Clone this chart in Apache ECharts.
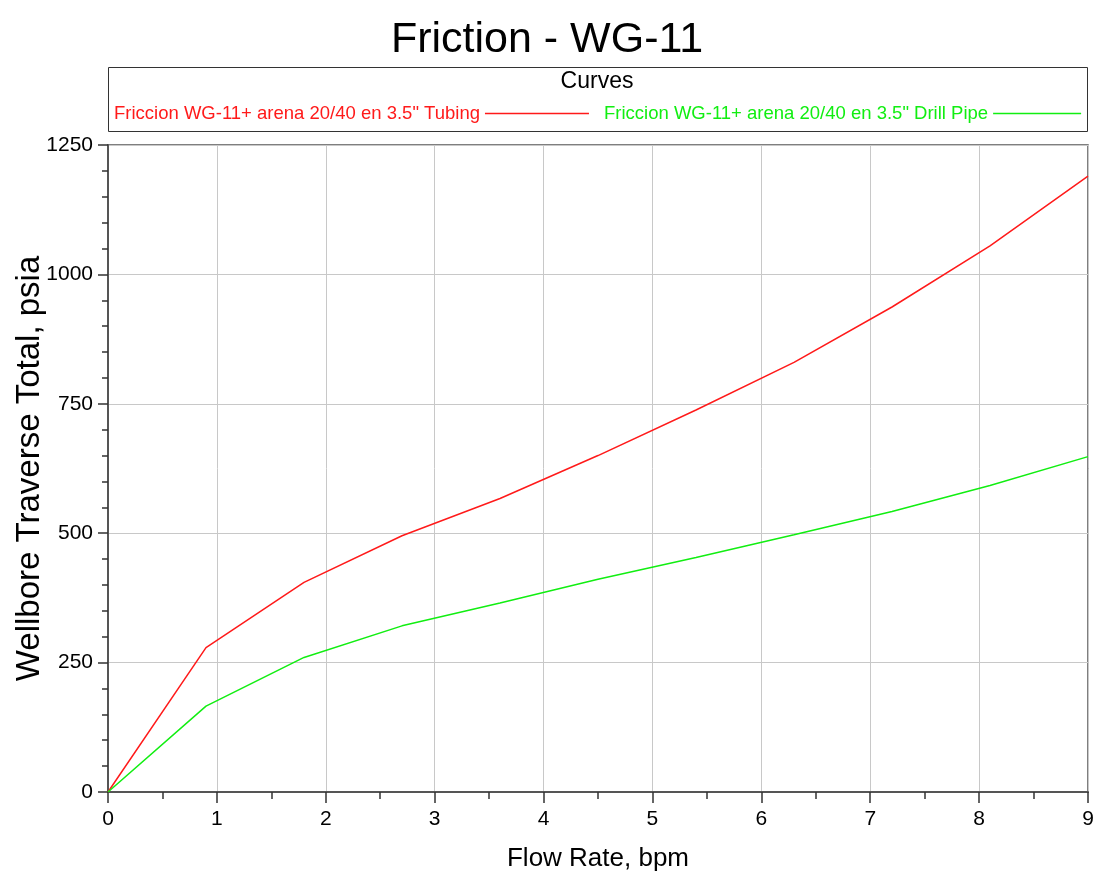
<!DOCTYPE html>
<html>
<head>
<meta charset="utf-8">
<script src="https://cdn.jsdelivr.net/npm/echarts@6/dist/echarts.min.js"></script>
<style>
html,body{margin:0;padding:0;background:#fff;}
#chart{width:1094px;height:874px;}
</style>
</head>
<body>
<div id="chart"></div>
<script>
const flowRate = [0, 0.9, 1.8, 2.7, 3.6, 4.5, 5.4, 6.3, 7.2, 8.1, 9.0];
const tubing = [0, 279, 405, 495, 567, 650, 738, 830, 937, 1055, 1190];
const drillPipe = [0, 166, 260, 321, 365, 411, 453, 497, 542, 592, 648];
const seriesNames = ['Friccion WG-11+ arena 20/40 en 3.5" Tubing', 'Friccion WG-11+ arena 20/40 en 3.5" Drill Pipe'];
const seriesColors = ['#ff1a1a', '#11ee11'];
const titleText = 'Friction - WG-11';
const legendTitle = 'Curves';
const xName = 'Flow Rate, bpm';
const yName = 'Wellbore Traverse Total, psia';

const FONT = "'Liberation Sans', Arial, sans-serif";

const chart = echarts.init(document.getElementById('chart'));
const pairs = (ys) => flowRate.map((x, i) => [x, ys[i]]);
const legendLefts = [114, 604];
const legendLineWidths = [104, 88];

chart.setOption({
  backgroundColor: '#fff',
  animation: false,
  title: {
    text: titleText,
    left: 'center',
    top: 14,
    textStyle: { fontFamily: FONT, fontSize: 43, fontWeight: 'normal', color: '#000' }
  },
  graphic: [
    { type: 'rect', shape: { x: 108.5, y: 67.5, width: 979, height: 64 },
      style: { fill: 'none', stroke: '#333', lineWidth: 1 }, silent: true },
    { type: 'text', x: 597, y: 82, style: { text: legendTitle, fontFamily: FONT, fontSize: 23,
      fill: '#000', textAlign: 'center', textVerticalAlign: 'middle' }, silent: true }
  ],
  legend: seriesNames.map((n, i) => ({
    left: legendLefts[i],
    top: 104,
    padding: 0,
    align: 'right',
    itemWidth: legendLineWidths[i],
    itemHeight: 1.5,
    icon: 'rect',
    data: [{ name: n, textStyle: { color: seriesColors[i] } }],
    textStyle: { fontFamily: FONT, fontSize: 18.5 }
  })),
  grid: {
    left: 108, top: 145, right: 6, bottom: 82,
    containLabel: false, outerBoundsMode: 'none',
    show: true, borderColor: '#555', borderWidth: 1.5, backgroundColor: 'transparent'
  },
  xAxis: {
    type: 'value', min: 0, max: 9, interval: 1,
    name: xName, nameLocation: 'middle', nameGap: 54, nameMoveOverlap: false,
    nameTextStyle: { fontFamily: FONT, fontSize: 26, color: '#000' },
    axisLine: { show: true, lineStyle: { color: '#555', width: 2 } },
    axisTick: { show: true, inside: false, length: 11, lineStyle: { color: '#333', width: 1.5 } },
    minorTick: { show: true, splitNumber: 2, length: 7, lineStyle: { color: '#333', width: 1.5 } },
    axisLabel: { fontFamily: FONT, fontSize: 21, color: '#000', margin: 17 },
    splitLine: { show: true, lineStyle: { color: '#c8c8c8', width: 1 } }
  },
  yAxis: {
    type: 'value', min: 0, max: 1250, interval: 250,
    name: yName, nameLocation: 'middle', nameGap: 62, nameRotate: 90, nameMoveOverlap: false,
    nameTextStyle: { fontFamily: FONT, fontSize: 33, color: '#000' },
    axisLine: { show: true, lineStyle: { color: '#555', width: 2 } },
    axisTick: { show: true, inside: false, length: 10, lineStyle: { color: '#333', width: 1.5 } },
    minorTick: { show: true, splitNumber: 5, length: 6, lineStyle: { color: '#333', width: 1.5 } },
    axisLabel: { fontFamily: FONT, fontSize: 21, color: '#000', margin: 15, formatter: (v) => String(v) },
    splitLine: { show: true, lineStyle: { color: '#c8c8c8', width: 1 } }
  },
  series: [
    { name: seriesNames[0], type: 'line', data: pairs(tubing), showSymbol: false, symbol: 'none',
      lineStyle: { color: seriesColors[0], width: 1.5 }, itemStyle: { color: seriesColors[0] } },
    { name: seriesNames[1], type: 'line', data: pairs(drillPipe), showSymbol: false, symbol: 'none',
      lineStyle: { color: seriesColors[1], width: 1.5 }, itemStyle: { color: seriesColors[1] } }
  ]
});
</script>
</body>
</html>
